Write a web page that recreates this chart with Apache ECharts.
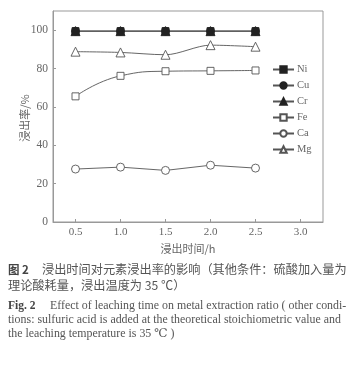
<!DOCTYPE html>
<html><head><meta charset="utf-8">
<script src="https://cdn.jsdelivr.net/npm/echarts@6/dist/echarts.min.js"></script>
<style>html,body{margin:0;padding:0;background:#fff}#c{width:355px;height:369px}</style>
</head><body><div id="c"></div>
<script>
const times = [0.5, 1.0, 1.5, 2.0, 2.5];
const xTicks = [0.5, 1.0, 1.5, 2.0, 2.5, 3.0];
const yTicks = [0, 20, 40, 60, 80, 100];
const ni = [99.5, 99.5, 99.5, 99.5, 99.5];
const cu = [99.5, 99.5, 99.5, 99.5, 99.5];
const cr = [99.5, 99.5, 99.5, 99.5, 99.5];
const fe = [65.5, 76.2, 78.6, 78.8, 79.0];
const ca = [27.6, 28.6, 26.9, 29.6, 28.1];
const mg = [88.8, 88.4, 87.2, 92.2, 91.4];
const names = ['Ni', 'Cu', 'Cr', 'Fe', 'Ca', 'Mg'];
const yName = '浸出率/%';

const seriesDefs = [
  {name:'Ni', data:ni, symbol:'rect', filled:true},
  {name:'Cu', data:cu, symbol:'circle', filled:true},
  {name:'Cr', data:cr, symbol:'triangle', filled:true},
  {name:'Fe', data:fe, symbol:'rect', filled:false, smooth:true},
  {name:'Ca', data:ca, symbol:'circle', filled:false},
  {name:'Mg', data:mg, symbol:'triangle', filled:false, smooth:0.3}
];
const serif = '"Liberation Serif","DejaVu Serif",serif';
const cjk = '"Noto Sans CJK SC",sans-serif';
const txt = '#666';
const chart = echarts.init(document.getElementById('c'), null, {renderer:'canvas'});
chart.setOption({
  animation:false,
  backgroundColor:'#fff',
  grid:{left:53, right:32, top:11, bottom:147, show:true, borderColor:'#999', borderWidth:1},
  legend:{
    orient:'vertical', left:267, top:59, itemWidth:21, itemHeight:8, itemGap:5,
    textStyle:{fontFamily:serif, fontSize:10.5, color:txt, padding:[0,0,0,-2]},
    data:names
  },
  xAxis:{
    type:'value', min:0.25, max:3.25,
    name:'浸出时间/h', nameLocation:'middle', nameGap:19,
    nameTextStyle:{fontFamily:cjk, fontSize:11, color:txt},
    axisLine:{lineStyle:{color:'#999', width:1}},
    axisTick:{inside:true, length:3, customValues:xTicks, lineStyle:{color:'#999'}},
    axisLabel:{customValues:xTicks, fontFamily:serif, fontSize:11, color:txt, margin:5,
      formatter:v=>v.toFixed(1)},
    splitLine:{show:false}
  },
  yAxis:{
    type:'value', min:0, max:110,
    axisLine:{show:true, lineStyle:{color:'#999', width:1}},
    axisTick:{show:true, inside:true, length:3, customValues:yTicks, lineStyle:{color:'#999'}},
    axisLabel:{customValues:yTicks, fontFamily:serif, fontSize:11.5, color:txt, margin:5},
    splitLine:{show:false}
  },
  series: seriesDefs.map(s=>({
    name:s.name, type:'line',
    data:s.data.map((v,i)=>[times[i], v]),
    symbol:s.symbol, symbolSize: s.symbol==='triangle'?9:(s.symbol==='rect'?7:8),
    showSymbol:true, smooth:s.smooth||false,
    lineStyle:{color:'#555', width:0.9},
    itemStyle:{color: s.filled?'#222':'#fff', borderColor: s.filled?'#222':'#555', borderWidth:0.9}
  })),
  graphic:[
    {type:'text', x:25, y:118, rotation:Math.PI/2, style:{text:yName, font:'11px '+cjk, fill:txt, align:'center', verticalAlign:'middle'}},
    {type:'text', left:8, top:264, style:{text:'图 2', font:'bold 11.5px '+cjk, fill:'#444'}},
    {type:'text', left:42, top:263, style:{text:'浸出时间对元素浸出率的影响（其他条件：硫酸加入量为', font:'12.2px '+cjk, fill:'#555'}},
    {type:'text', left:8, top:279, style:{text:'理论酸耗量，浸出温度为 35 ℃）', font:'12.2px '+cjk, fill:'#555'}},
    {type:'text', left:8, top:300, style:{text:'Fig. 2', font:'bold 11.5px '+serif, fill:'#444'}},
    {type:'text', left:50, top:300, style:{text:'Effect of leaching time on metal extraction ratio ( other condi-', font:'11.9px '+serif, fill:'#555'}},
    {type:'text', left:8, top:314, style:{text:'tions: sulfuric acid is added at the theoretical stoichiometric value and', font:'11.9px '+serif, fill:'#555'}},
    {type:'text', left:8, top:328, style:{text:'the leaching temperature is 35 ℃ )', font:'11.9px '+serif, fill:'#555'}}
  ]
});
</script></body></html>
